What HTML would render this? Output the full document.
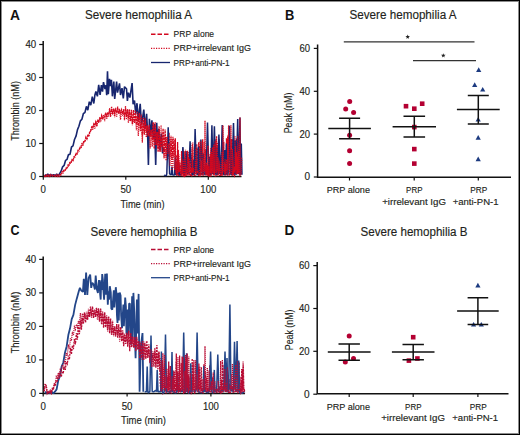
<!DOCTYPE html>
<html><head><meta charset="utf-8"><style>
html,body{margin:0;padding:0;background:#fff;}
.fig{position:relative;width:520px;height:435px;overflow:hidden;background:#fff;}
svg{position:absolute;left:0;top:0;font-family:"Liberation Sans",sans-serif;}
</style></head><body><div class="fig">
<svg width="520" height="435" viewBox="0 0 520 435">
<rect x="0" y="0" width="520" height="435" fill="#fff"/>
<text x="10.0" y="20.0" font-size="14.2" text-anchor="start" font-weight="bold" fill="#111" textLength="10.0" lengthAdjust="spacingAndGlyphs">A</text>
<text x="85.0" y="18.5" font-size="12.5" text-anchor="start" font-weight="normal" fill="#231f20" textLength="107.0" lengthAdjust="spacingAndGlyphs" stroke="#231f20" stroke-width="0.15">Severe hemophilia A</text>
<path d="M43.2,41 V177.2 M42.5,176.5 H241.5" stroke="#111" stroke-width="1.5" fill="none"/>
<path d="M39.2,176.5 H43" stroke="#111" stroke-width="1.2"/>
<text x="36.2" y="179.8" font-size="10.5" text-anchor="end" font-weight="normal" fill="#231f20" textLength="5.6" lengthAdjust="spacingAndGlyphs" stroke="#231f20" stroke-width="0.15">0</text>
<path d="M39.2,143.5 H43" stroke="#111" stroke-width="1.2"/>
<text x="36.2" y="146.8" font-size="10.5" text-anchor="end" font-weight="normal" fill="#231f20" textLength="10.8" lengthAdjust="spacingAndGlyphs" stroke="#231f20" stroke-width="0.15">10</text>
<path d="M39.2,110.5 H43" stroke="#111" stroke-width="1.2"/>
<text x="36.2" y="113.8" font-size="10.5" text-anchor="end" font-weight="normal" fill="#231f20" textLength="10.8" lengthAdjust="spacingAndGlyphs" stroke="#231f20" stroke-width="0.15">20</text>
<path d="M39.2,77.5 H43" stroke="#111" stroke-width="1.2"/>
<text x="36.2" y="80.8" font-size="10.5" text-anchor="end" font-weight="normal" fill="#231f20" textLength="10.8" lengthAdjust="spacingAndGlyphs" stroke="#231f20" stroke-width="0.15">30</text>
<path d="M39.2,44.5 H43" stroke="#111" stroke-width="1.2"/>
<text x="36.2" y="47.9" font-size="10.5" text-anchor="end" font-weight="normal" fill="#231f20" textLength="10.8" lengthAdjust="spacingAndGlyphs" stroke="#231f20" stroke-width="0.15">40</text>
<path d="M43.3,176.5 V179.8" stroke="#111" stroke-width="1.2"/>
<text x="43.3" y="192.5" font-size="10.5" text-anchor="middle" font-weight="normal" fill="#231f20" textLength="5.4" lengthAdjust="spacingAndGlyphs" stroke="#231f20" stroke-width="0.15">0</text>
<path d="M125.8,176.5 V179.8" stroke="#111" stroke-width="1.2"/>
<text x="125.8" y="192.5" font-size="10.5" text-anchor="middle" font-weight="normal" fill="#231f20" textLength="10.8" lengthAdjust="spacingAndGlyphs" stroke="#231f20" stroke-width="0.15">50</text>
<path d="M208.3,176.5 V179.8" stroke="#111" stroke-width="1.2"/>
<text x="208.3" y="192.5" font-size="10.5" text-anchor="middle" font-weight="normal" fill="#231f20" textLength="16.0" lengthAdjust="spacingAndGlyphs" stroke="#231f20" stroke-width="0.15">100</text>
<text x="120.5" y="207.6" font-size="11" text-anchor="start" font-weight="normal" fill="#231f20" textLength="44.0" lengthAdjust="spacingAndGlyphs" stroke="#231f20" stroke-width="0.15">Time (min)</text>
<g transform="translate(18.7,140.8) rotate(-90)"><text x="0.0" y="0.0" font-size="10.5" text-anchor="start" font-weight="normal" fill="#231f20" textLength="59.8" lengthAdjust="spacingAndGlyphs" stroke="#231f20" stroke-width="0.15">Thrombin (nM)</text></g>
<path d="M44.8,174.6 46.3,175.8 47.8,174.1 49.2,175.7 50.7,174.4 52.2,175.8 53.7,174.6 55.2,175.7 56.7,174.0 58.1,175.9 59.6,173.7 61.1,171.2 62.6,166.8 64.1,165.4 65.6,160.3 67.1,159.3 68.5,154.5 70.0,154.4 71.5,147.0 73.0,145.9 74.5,139.5 76.0,136.2 77.5,129.6 78.9,126.3 80.4,120.9 81.9,119.2 83.4,113.5 84.9,112.6 86.4,106.4 87.8,110.2 89.3,101.7 90.8,105.2 92.3,96.6 93.8,103.5 94.9,95.0 95.9,91.4 97.4,96.3 98.7,84.8 100.1,95.0 101.4,85.1 102.5,91.7 103.5,82.1 105.0,89.1 106.0,85.1 106.7,95.3 107.5,71.2 108.3,94.3 109.5,78.8 110.5,86.1 111.4,79.8 112.4,96.3 113.8,81.5 114.7,99.0 116.6,81.5 117.5,92.7 119.5,83.4 120.5,95.0 122.0,88.1 123.3,98.3 124.5,86.7 126.5,88.7 127.4,100.9 128.4,92.7 129.9,97.6 132.1,83.1 133.1,104.2 134.5,100.6 135.7,113.8 137.0,103.2 138.3,120.4 140.2,103.9 141.5,125.3 143.8,109.5 145.3,128.7 146.6,113.8 147.6,133.6 148.4,164.9 149.4,118.8 150.6,135.2 151.9,120.4 153.4,138.6 154.5,123.7 155.7,164.9 156.7,122.7 157.6,143.5 158.8,128.7 160.0,150.1 161.3,133.6 162.6,153.4 163.8,146.8" stroke="#17266f" stroke-width="1.6" fill="none" stroke-linejoin="bevel"/>
<path d="M44.3,175.2 45.3,176.3 46.3,174.8 47.3,176.1 48.2,175.1 49.2,176.3 50.2,174.7 51.2,176.1 52.2,174.9 53.2,175.9 54.2,175.3 55.2,176.0 56.2,174.8 57.2,175.8 58.1,174.7 59.1,175.9 60.1,174.6 61.1,174.0 62.1,171.6 63.1,172.3 64.1,169.4 65.1,170.0 66.1,167.8 67.1,167.5 68.0,165.0 69.0,165.0 70.0,161.9 71.0,162.2 72.0,159.7 73.0,159.8 74.0,156.7 75.0,156.9 76.0,153.3 77.0,153.5 78.0,150.3 78.9,150.4 79.9,147.5 80.9,146.9 81.9,143.6 82.9,144.1 83.9,140.6 84.9,141.0 85.9,137.1 86.9,138.9 87.9,134.3 88.8,135.6 89.8,131.4 90.8,130.4 91.8,126.9 92.8,127.7 93.8,123.9 94.8,125.4 95.8,121.7 96.8,124.7 97.8,120.5 98.7,121.7 99.7,118.2 100.7,119.6 101.7,115.3 102.7,118.2 103.7,115.8 104.7,116.4 105.7,113.0 106.7,117.0 107.7,112.1 108.6,114.7 109.6,110.6 110.6,114.0 111.6,110.3 112.6,113.2 113.6,109.0 114.6,113.0 115.6,109.5 116.6,111.5 117.6,108.7 118.5,113.5 119.5,109.0 120.5,113.6 121.5,109.7 122.5,113.0 123.5,111.0 124.5,116.5 125.5,108.9 126.5,115.8 127.5,109.6 128.4,118.2 129.4,109.4 130.4,121.2 131.4,112.5 132.4,123.4 133.4,110.0 134.4,123.0 135.4,110.9 136.4,124.3 137.4,116.0 138.3,125.6 139.3,114.3 140.3,127.9 141.3,122.9 142.3,135.8 143.3,117.7 144.3,134.8 145.3,118.3 146.3,132.3 147.3,125.1 148.2,136.3 149.2,124.9 150.2,136.8 151.2,129.8 152.2,140.2 153.2,122.2 154.2,148.9 155.2,124.9 156.2,145.0 157.2,131.7 158.1,152.2 159.1,129.8 160.1,151.3 161.1,137.0 162.1,147.1 163.1,128.5 164.1,156.8 165.1,129.4 166.1,156.6 167.1,137.0 168.0,158.7 169.0,132.7 170.0,157.1 171.0,138.7 172.0,158.9 173.0,136.7 174.0,157.0 175.0,139.5 176.0,173.9 176.3,155.0 176.6,173.0 176.9,173.3 177.3,175.1 177.6,141.9 177.9,171.6 178.3,173.1 178.6,176.0 178.9,160.4 179.3,175.7 179.6,173.0 179.9,175.8 180.2,164.9 180.6,173.8 180.9,170.6 181.2,175.5 181.6,151.1 181.9,173.6 182.2,151.2 182.6,171.8 182.9,148.4 183.2,176.5 183.6,174.2 183.9,172.4 184.2,151.3 184.5,175.2 184.9,165.4 185.2,176.3 185.5,165.6 185.9,171.7 186.2,158.8 186.5,173.6 186.9,176.0 187.2,173.3 187.5,150.7 187.8,171.4 188.2,152.0 188.5,173.7 188.8,174.3 189.2,172.2 189.5,174.6 189.8,174.8 190.2,175.9 190.5,176.1 190.8,148.2 191.1,172.5 191.5,154.9 191.8,176.4 192.1,161.2 192.5,173.8 192.8,162.5 193.1,175.3 193.5,161.2 193.8,175.2 194.1,147.5 194.4,172.6 194.8,168.1 195.1,174.4 195.4,153.8 195.8,171.3 196.1,159.1 196.4,173.8 196.8,144.0 197.1,172.2 197.4,148.6 197.7,172.8 198.1,172.6 198.4,172.7 198.7,142.3 199.1,174.3 199.4,145.5 199.7,171.1 200.1,176.5 200.4,174.7 200.7,161.6 201.0,175.7 201.4,173.5 201.7,174.8 202.0,172.2 202.4,173.8 202.7,139.3 203.0,172.4 203.4,163.4 203.7,172.7 204.0,166.2 204.3,170.9 204.7,166.4 205.0,171.5 205.3,149.3 205.7,175.3 206.0,165.3 206.3,174.2 206.7,173.7 207.0,173.8 207.3,165.1 207.6,175.4 208.0,165.3 208.3,175.3 208.6,176.3 209.0,171.5 209.3,172.1 209.6,176.4 210.0,174.9 210.3,172.7 210.6,166.6 210.9,176.5 211.3,172.6 211.6,174.6 211.9,139.5 212.3,174.2 212.6,143.7 212.9,171.4 213.3,174.5 213.6,175.3 213.9,153.6 214.2,175.1 214.6,141.5 214.9,170.7 215.2,176.4 215.6,172.9 215.9,139.1 216.2,171.8 216.6,168.7 216.9,176.1 217.2,151.2 217.5,172.6 217.9,143.1 218.2,174.4 218.5,161.8 218.9,174.6 219.2,139.3 219.5,176.1 219.9,155.1 220.2,172.2 220.5,165.2 220.8,176.1 221.2,155.8 221.5,172.2 221.8,169.9 222.2,175.8 222.5,173.1 222.8,173.9 223.2,145.9 223.5,173.2 223.8,141.7 224.1,175.2 224.5,161.7 224.8,173.1 225.1,169.2 225.5,172.0 225.8,169.7 226.1,171.1 226.5,138.3 226.8,172.2 227.1,143.7 227.4,170.8 227.8,138.2 228.1,170.4 228.4,136.7 228.8,170.6 229.1,176.0 229.4,174.3 229.8,150.8 230.1,171.7 230.4,169.7 230.7,170.6 231.1,139.1 231.4,175.2 231.7,173.0 232.1,171.6 232.4,139.0 232.7,174.2 233.1,159.3 233.4,175.4 233.7,141.9 234.0,174.2 234.4,175.4 234.7,173.8 235.0,175.4 235.4,172.2 235.7,171.9 236.0,170.6 236.4,138.3 236.7,173.2 237.0,166.3 237.3,173.8 237.7,143.6 238.0,171.7 238.3,165.7 238.7,173.7 239.0,155.6 239.3,174.8 239.7,156.9 240.0,176.3 240.3,151.4 240.6,171.3 241.0,145.2 241.3,170.1 241.6,159.6" stroke="#d3081f" stroke-width="1.3" fill="none" stroke-dasharray="2,1"/>
<path d="M164.4,175.5 164.4,175.2 166.2,175.9 166.8,173.9 168.2,127.3 169.6,173.9 171.3,174.8 172.0,166.6 172.7,174.8 173.5,175.1 174.6,174.8 175.3,156.7 176.0,174.8 177.1,174.5 177.9,174.8 178.6,163.3 179.3,174.8 180.7,174.8 181.5,173.9 182.9,147.1 184.3,173.9 184.6,173.9 186.0,151.1 187.4,173.9 188.0,173.2 188.7,173.9 190.1,141.2 191.6,173.9 192.7,174.8 193.4,160.0 194.2,174.8 195.1,129.0 196.5,173.9 197.1,174.2 197.7,174.8 198.4,146.8 199.1,174.8 199.5,173.9 200.9,139.5 202.3,173.9 202.6,174.8 203.3,153.4 204.1,174.8 204.3,173.1 206.1,173.9 207.5,122.4 208.9,173.9 209.2,174.8 209.9,156.7 210.7,174.8 211.9,125.3 213.0,173.9 214.4,126.3 215.8,174.8 216.6,146.8 217.3,174.8 217.5,173.9 218.9,134.6 220.3,173.9 220.8,173.9 222.2,125.0 223.6,173.9 224.1,174.8 224.8,150.1 225.5,174.8 225.7,174.8 226.4,143.5 227.2,174.8 228.0,173.9 229.4,125.7 230.7,174.8 231.4,150.1 232.1,174.8 233.5,123.0 234.8,174.8 235.5,140.2 236.3,174.8 237.7,119.1 238.6,173.9 240.0,117.4 240.6,174.8 241.3,143.5 242.0,174.8" stroke="#17266f" stroke-width="1.5" fill="none" stroke-linejoin="bevel"/>
<path d="M44.3,176.3 45.3,176.5 46.3,176.0 47.3,176.5 48.2,176.2 49.2,176.5 50.2,176.1 51.2,176.5 52.2,176.2 53.2,176.5 54.2,175.8 55.2,176.5 56.2,175.9 57.2,176.5 58.1,176.0 59.1,176.5 60.1,175.7 61.1,175.0 62.1,172.7 63.1,173.0 64.1,171.0 65.1,170.7 66.1,168.5 67.1,169.0 68.0,166.3 69.0,166.1 70.0,163.3 71.0,163.4 72.0,159.8 73.0,160.7 74.0,157.4 75.0,157.1 76.0,153.9 77.0,155.0 78.0,151.7 78.9,151.7 79.9,147.7 80.9,148.6 81.9,145.4 82.9,145.8 83.9,141.7 84.9,142.0 85.9,138.6 86.9,139.0 87.9,136.2 88.8,136.2 89.8,132.5 90.8,131.2 91.8,126.6 92.8,130.0 93.8,123.7 94.8,128.7 95.8,121.4 96.8,126.6 97.8,121.0 98.7,122.9 99.7,117.8 100.7,122.0 101.7,115.5 102.7,119.2 103.7,115.7 104.7,121.1 105.7,112.6 106.7,119.2 107.7,113.2 108.6,116.9 109.6,108.1 110.6,116.9 111.6,106.4 112.6,114.4 113.6,108.4 114.6,117.3 115.6,107.9 116.6,117.2 117.6,106.7 118.5,113.5 119.5,109.6 120.5,119.7 121.5,110.1 122.5,115.7 123.5,109.2 124.5,120.2 125.5,106.1 126.5,119.5 127.5,109.0 128.4,123.0 129.4,111.6 130.4,121.3 131.4,109.7 132.4,125.3 133.4,115.5 134.4,122.2 135.4,115.5 136.4,130.1 137.4,111.6 138.3,136.1 139.3,112.7 140.3,131.3 141.3,114.4 142.3,142.6 143.3,120.5 144.3,132.2 145.3,121.6 146.3,137.3 147.3,125.6 148.2,135.8 149.2,127.7 150.2,148.4 151.2,130.1 152.2,146.7 153.2,129.3 154.2,142.5 155.2,122.0 156.2,145.5 157.2,132.3 158.1,149.3 159.1,126.2 160.1,151.9 161.1,125.1 162.1,151.9 163.1,131.9 164.1,158.6 165.1,134.6 166.1,160.7 167.1,136.4 168.0,154.0 169.0,143.4 170.0,166.0 171.0,135.8 172.0,170.5 173.0,138.4 174.0,167.0 174.8,169.9 175.3,138.2 175.8,169.9 176.0,173.4 176.3,161.1 176.6,175.7 176.9,165.4 177.3,174.2 177.6,156.9 177.9,175.2 178.3,150.0 178.6,172.0 178.9,154.4 179.3,171.7 179.6,169.2 179.9,172.1 180.2,162.1 180.6,172.1 180.9,169.4 181.2,175.4 181.6,151.6 181.9,174.5 182.2,174.1 182.6,175.2 182.9,159.4 183.2,173.8 183.6,175.0 183.9,175.5 184.2,159.4 184.5,174.9 184.9,176.3 185.2,176.5 185.5,149.7 185.9,174.9 186.2,173.4 186.5,174.4 186.9,168.3 187.2,173.3 187.5,157.5 187.8,174.8 188.2,156.4 188.5,175.5 188.8,157.5 189.2,171.6 189.5,158.4 189.8,172.0 190.2,163.0 190.5,173.0 190.8,168.8 191.1,174.4 191.5,168.1 191.8,172.8 192.1,143.4 192.5,172.9 192.8,142.2 193.1,172.3 193.5,167.8 193.8,173.9 194.1,175.8 194.4,176.2 194.8,174.9 195.1,174.3 195.4,160.7 195.8,175.7 196.1,147.4 196.4,174.1 196.8,159.1 197.1,172.7 197.4,171.9 197.7,172.5 198.1,170.3 198.4,176.0 198.7,176.2 199.1,173.3 199.4,174.7 199.7,174.3 200.1,140.8 200.4,172.6 200.7,175.0 201.0,172.3 201.4,161.1 201.7,171.8 202.0,141.3 202.4,172.2 202.7,174.0 203.0,173.2 203.4,158.7 203.7,175.7 204.0,142.2 204.3,171.3 204.5,169.9 205.0,120.7 205.5,169.9 205.7,174.0 206.0,165.5 206.3,173.8 206.7,162.6 207.0,175.4 207.3,165.9 207.6,170.9 208.0,145.6 208.3,175.8 208.6,165.5 209.0,171.7 209.3,173.3 209.6,175.9 210.0,154.1 210.3,173.5 210.6,147.9 210.9,173.5 211.3,151.6 211.6,174.6 211.9,153.8 212.3,171.7 212.6,147.2 212.9,172.7 213.3,171.0 213.6,173.1 213.9,144.7 214.2,174.9 214.6,143.8 214.9,172.8 215.2,140.9 215.6,170.4 215.9,173.4 216.2,172.7 216.6,136.1 216.9,173.5 217.2,142.4 217.5,171.1 217.9,157.6 218.2,175.4 218.5,170.9 218.9,171.0 219.2,160.2 219.5,170.9 219.9,162.5 220.2,173.4 220.5,168.6 220.8,175.6 221.2,175.5 221.5,172.1 221.8,151.7 222.2,174.3 222.5,169.9 223.0,125.3 223.5,169.9 223.8,172.4 224.1,171.4 224.5,161.9 224.8,175.4 225.1,159.1 225.5,174.6 225.8,164.0 226.1,171.3 226.5,159.5 226.8,173.2 227.1,175.0 227.4,176.0 227.8,135.4 228.1,169.9 228.6,125.3 229.1,169.9 229.4,172.7 229.8,174.2 230.1,173.9 230.4,169.9 230.9,125.3 231.4,169.9 231.7,172.9 232.1,175.6 232.4,148.9 232.7,175.8 233.1,172.3 233.4,173.4 233.7,169.7 234.0,173.5 234.4,166.6 234.7,172.4 235.0,135.9 235.4,170.3 235.7,146.0 236.0,174.1 236.4,152.3 236.7,170.2 237.0,156.7 237.3,174.3 237.7,135.9 238.0,173.5 238.3,151.1 238.7,172.7 239.0,143.3 239.3,173.5 239.5,169.9 240.0,117.4 240.5,169.9 240.6,170.2 241.0,174.7 241.3,170.2 241.6,157.1" stroke="#d3081f" stroke-width="1.3" fill="none" stroke-dasharray="1,1"/>
<path d="M151,34.3 H168.5" stroke="#d3081f" stroke-width="1.6" stroke-dasharray="4.5,2"/>
<path d="M151,48.4 H170.5" stroke="#d3081f" stroke-width="1.3" stroke-dasharray="1.2,1.3"/>
<path d="M151,62.5 H170" stroke="#17266f" stroke-width="1.3"/>
<text x="173.6" y="37.3" font-size="9.5" text-anchor="start" font-weight="normal" fill="#231f20" textLength="40.5" lengthAdjust="spacingAndGlyphs" stroke="#231f20" stroke-width="0.15">PRP alone</text>
<text x="173.6" y="51.4" font-size="9.5" text-anchor="start" font-weight="normal" fill="#231f20" textLength="77.3" lengthAdjust="spacingAndGlyphs" stroke="#231f20" stroke-width="0.15">PRP+irrelevant IgG</text>
<text x="173.6" y="65.5" font-size="9.5" text-anchor="start" font-weight="normal" fill="#231f20" textLength="56.0" lengthAdjust="spacingAndGlyphs" stroke="#231f20" stroke-width="0.15">PRP+anti-PN-1</text>
<text x="285.0" y="20.0" font-size="14.2" text-anchor="start" font-weight="bold" fill="#111" textLength="9.3" lengthAdjust="spacingAndGlyphs">B</text>
<text x="349.5" y="18.5" font-size="12.5" text-anchor="start" font-weight="normal" fill="#231f20" textLength="107.0" lengthAdjust="spacingAndGlyphs" stroke="#231f20" stroke-width="0.15">Severe hemophilia A</text>
<path d="M317.6,44.5 V178 M317,177.3 H511" stroke="#111" stroke-width="1.5" fill="none"/>
<path d="M313.8,177.0 H317.5" stroke="#111" stroke-width="1.2"/>
<text x="310.0" y="180.3" font-size="10.5" text-anchor="end" font-weight="normal" fill="#231f20" textLength="5.6" lengthAdjust="spacingAndGlyphs" stroke="#231f20" stroke-width="0.15">0</text>
<path d="M313.8,134.1 H317.5" stroke="#111" stroke-width="1.2"/>
<text x="310.0" y="137.5" font-size="10.5" text-anchor="end" font-weight="normal" fill="#231f20" textLength="10.6" lengthAdjust="spacingAndGlyphs" stroke="#231f20" stroke-width="0.15">20</text>
<path d="M313.8,91.3 H317.5" stroke="#111" stroke-width="1.2"/>
<text x="310.0" y="94.6" font-size="10.5" text-anchor="end" font-weight="normal" fill="#231f20" textLength="10.6" lengthAdjust="spacingAndGlyphs" stroke="#231f20" stroke-width="0.15">40</text>
<path d="M313.8,48.4 H317.5" stroke="#111" stroke-width="1.2"/>
<text x="310.0" y="51.8" font-size="10.5" text-anchor="end" font-weight="normal" fill="#231f20" textLength="10.6" lengthAdjust="spacingAndGlyphs" stroke="#231f20" stroke-width="0.15">60</text>
<path d="M349.5,177.3 V180.5" stroke="#111" stroke-width="1.2"/>
<path d="M414.2,177.3 V180.5" stroke="#111" stroke-width="1.2"/>
<path d="M478.3,177.3 V180.5" stroke="#111" stroke-width="1.2"/>
<text x="348.3" y="192.5" font-size="9.5" text-anchor="middle" font-weight="normal" fill="#231f20" textLength="43.3" lengthAdjust="spacingAndGlyphs" stroke="#231f20" stroke-width="0.15">PRP alone</text>
<text x="414.3" y="192.7" font-size="9.5" text-anchor="middle" font-weight="normal" fill="#231f20" textLength="16.4" lengthAdjust="spacingAndGlyphs" stroke="#231f20" stroke-width="0.15">PRP</text>
<text x="414.1" y="204.5" font-size="9.5" text-anchor="middle" font-weight="normal" fill="#231f20" textLength="63.8" lengthAdjust="spacingAndGlyphs" stroke="#231f20" stroke-width="0.15">+irrelevant IgG</text>
<text x="478.7" y="192.7" font-size="9.5" text-anchor="middle" font-weight="normal" fill="#231f20" textLength="17.0" lengthAdjust="spacingAndGlyphs" stroke="#231f20" stroke-width="0.15">PRP</text>
<text x="475.6" y="204.5" font-size="9.5" text-anchor="middle" font-weight="normal" fill="#231f20" textLength="45.8" lengthAdjust="spacingAndGlyphs" stroke="#231f20" stroke-width="0.15">+anti-PN-1</text>
<g transform="translate(292.4,133.3) rotate(-90)"><text x="0.0" y="0.0" font-size="10.5" text-anchor="start" font-weight="normal" fill="#231f20" textLength="40.7" lengthAdjust="spacingAndGlyphs" stroke="#231f20" stroke-width="0.15">Peak (nM)</text></g>
<path d="M343.8,41.8 H474.5 M413,60.6 H476" stroke="#333" stroke-width="1.3"/>
<polygon points="407.70,34.50 408.29,36.09 409.98,36.16 408.65,37.21 409.11,38.84 407.70,37.90 406.29,38.84 406.75,37.21 405.42,36.16 407.11,36.09" fill="#222"/>
<polygon points="443.30,53.20 443.89,54.79 445.58,54.86 444.25,55.91 444.71,57.54 443.30,56.60 441.89,57.54 442.35,55.91 441.02,54.86 442.71,54.79" fill="#222"/>
<circle cx="349.7" cy="101.6" r="2.5" fill="#b40032"/>
<circle cx="345.7" cy="108.9" r="2.5" fill="#b40032"/>
<circle cx="353.6" cy="112.4" r="2.5" fill="#b40032"/>
<circle cx="349.6" cy="135.2" r="2.5" fill="#b40032"/>
<circle cx="349.6" cy="150.7" r="2.5" fill="#b40032"/>
<circle cx="349.6" cy="163.5" r="2.5" fill="#b40032"/>
<path d="M328.3,128.6 H370.9 M339.1,118.3 H360.1 M339.1,138.7 H360.1 M349.6,118.3 V138.7" stroke="#111" stroke-width="1.5" fill="none"/>
<rect x="403.7" y="103.9" width="4.6" height="4.6" fill="#b40032"/>
<rect x="412.0" y="106.4" width="4.6" height="4.6" fill="#b40032"/>
<rect x="419.9" y="101.4" width="4.6" height="4.6" fill="#b40032"/>
<rect x="412.0" y="124.8" width="4.6" height="4.6" fill="#b40032"/>
<rect x="412.0" y="146.8" width="4.6" height="4.6" fill="#b40032"/>
<rect x="412.0" y="161.3" width="4.6" height="4.6" fill="#b40032"/>
<path d="M392.6,126.8 H436.0 M403.5,116.3 H425.1 M403.5,136.9 H425.1 M414.3,116.3 V136.9" stroke="#111" stroke-width="1.5" fill="none"/>
<path d="M478.7,67.2 L481.3,71.9 L476.1,71.9 Z" fill="#1c3a80"/>
<path d="M474.7,82.3 L477.3,87.0 L472.1,87.0 Z" fill="#1c3a80"/>
<path d="M482.7,86.9 L485.3,91.6 L480.1,91.6 Z" fill="#1c3a80"/>
<path d="M478.2,116.9 L480.8,121.6 L475.6,121.6 Z" fill="#1c3a80"/>
<path d="M478.2,135.0 L480.8,139.7 L475.6,139.7 Z" fill="#1c3a80"/>
<path d="M478.2,156.6 L480.8,161.3 L475.6,161.3 Z" fill="#1c3a80"/>
<path d="M456.9,109.4 H499.7 M467.8,95.4 H488.8 M467.8,123.9 H488.8 M478.3,95.4 V123.9" stroke="#111" stroke-width="1.5" fill="none"/>
<text x="10.5" y="235.4" font-size="14.2" text-anchor="start" font-weight="bold" fill="#111" textLength="9.0" lengthAdjust="spacingAndGlyphs">C</text>
<text x="90.5" y="236.3" font-size="12.5" text-anchor="start" font-weight="normal" fill="#231f20" textLength="107.0" lengthAdjust="spacingAndGlyphs" stroke="#231f20" stroke-width="0.15">Severe hemophilia B</text>
<path d="M43.2,256.5 V394.1 M42.5,393.4 H245" stroke="#111" stroke-width="1.5" fill="none"/>
<path d="M39.2,393.4 H43" stroke="#111" stroke-width="1.2"/>
<text x="36.2" y="396.8" font-size="10.5" text-anchor="end" font-weight="normal" fill="#231f20" textLength="5.6" lengthAdjust="spacingAndGlyphs" stroke="#231f20" stroke-width="0.15">0</text>
<path d="M39.2,359.9 H43" stroke="#111" stroke-width="1.2"/>
<text x="36.2" y="363.2" font-size="10.5" text-anchor="end" font-weight="normal" fill="#231f20" textLength="10.8" lengthAdjust="spacingAndGlyphs" stroke="#231f20" stroke-width="0.15">10</text>
<path d="M39.2,326.4 H43" stroke="#111" stroke-width="1.2"/>
<text x="36.2" y="329.8" font-size="10.5" text-anchor="end" font-weight="normal" fill="#231f20" textLength="10.8" lengthAdjust="spacingAndGlyphs" stroke="#231f20" stroke-width="0.15">20</text>
<path d="M39.2,292.9 H43" stroke="#111" stroke-width="1.2"/>
<text x="36.2" y="296.2" font-size="10.5" text-anchor="end" font-weight="normal" fill="#231f20" textLength="10.8" lengthAdjust="spacingAndGlyphs" stroke="#231f20" stroke-width="0.15">30</text>
<path d="M39.2,259.4 H43" stroke="#111" stroke-width="1.2"/>
<text x="36.2" y="262.8" font-size="10.5" text-anchor="end" font-weight="normal" fill="#231f20" textLength="10.8" lengthAdjust="spacingAndGlyphs" stroke="#231f20" stroke-width="0.15">40</text>
<path d="M43.2,393.4 V396.6" stroke="#111" stroke-width="1.2"/>
<text x="43.2" y="409.8" font-size="10.5" text-anchor="middle" font-weight="normal" fill="#231f20" textLength="5.4" lengthAdjust="spacingAndGlyphs" stroke="#231f20" stroke-width="0.15">0</text>
<path d="M127.1,393.4 V396.6" stroke="#111" stroke-width="1.2"/>
<text x="127.1" y="409.8" font-size="10.5" text-anchor="middle" font-weight="normal" fill="#231f20" textLength="10.8" lengthAdjust="spacingAndGlyphs" stroke="#231f20" stroke-width="0.15">50</text>
<path d="M210.9,393.4 V396.6" stroke="#111" stroke-width="1.2"/>
<text x="210.9" y="409.8" font-size="10.5" text-anchor="middle" font-weight="normal" fill="#231f20" textLength="16.0" lengthAdjust="spacingAndGlyphs" stroke="#231f20" stroke-width="0.15">100</text>
<text x="121.0" y="423.6" font-size="10.5" text-anchor="start" font-weight="normal" fill="#231f20" textLength="45.0" lengthAdjust="spacingAndGlyphs" stroke="#231f20" stroke-width="0.15">Time (min)</text>
<g transform="translate(18.6,353.6) rotate(-90)"><text x="0.0" y="0.0" font-size="11" text-anchor="start" font-weight="normal" fill="#231f20" textLength="62.0" lengthAdjust="spacingAndGlyphs" stroke="#231f20" stroke-width="0.15">Thrombin (nM)</text></g>
<path d="M44.9,391.9 46.6,392.9 48.2,392.1 49.9,393.4 51.6,391.7 53.3,393.4 54.9,391.7 56.6,389.4 58.3,380.4 60.0,376.0 61.6,366.5 63.3,362.5 65.0,352.5 66.7,346.2 68.4,334.7 70.0,328.6 71.7,319.1 73.4,314.8 75.1,305.1 76.7,298.9 78.8,291.2 79.9,287.9 81.3,290.6 82.9,291.9 83.8,278.8 85.0,294.9 86.1,272.5 87.3,294.9 88.6,278.2 90.2,274.5 91.2,287.9 92.3,282.8 93.7,284.5 94.9,289.5 95.7,275.5 96.9,289.5 97.9,292.9 99.0,280.2 99.6,283.8 100.1,293.8 100.7,299.6 101.2,280.2 101.7,290.0 102.2,274.1 102.9,279.8 103.4,290.2 104.1,299.6 105.2,273.7 105.8,294.7 106.9,273.5 107.8,304.6 108.5,291.4 109.0,299.8 109.8,286.2 110.8,292.5 111.3,308.6 112.3,309.6 113.8,290.4 114.3,307.4 115.8,287.2 116.4,293.1 116.9,314.8 117.5,323.0 118.3,292.7 118.8,320.4 119.7,292.6 120.6,295.5 121.1,315.1 122.0,328.1 123.4,304.6 123.9,326.1 125.2,297.6 125.9,306.5 126.4,332.7 127.1,334.8 127.8,309.4 128.3,333.2 129.1,303.6 129.9,303.6 130.4,330.5 131.2,344.8 132.1,296.2 132.6,340.3 133.4,292.9 134.3,312.2 134.8,335.4 135.6,358.2 136.9,299.5 137.4,333.5 138.6,293.9 139.6,391.7 140.8,346.5 142.5,333.1 143.3,391.7" stroke="#234689" stroke-width="1.8" fill="none" stroke-linejoin="bevel"/>
<path d="M44.2,391.3 45.2,384.6 46.2,385.3 47.2,393.4 48.2,391.7 49.2,393.3 50.2,390.5 51.2,393.1 52.3,388.6 53.3,390.1 54.3,384.8 55.3,385.7 56.3,380.1 57.3,381.0 58.3,375.5 59.3,378.4 60.3,372.2 61.3,376.9 62.3,371.6 63.3,372.5 64.3,366.7 65.3,369.8 66.3,361.9 67.3,363.9 68.4,355.6 69.4,359.5 70.4,347.8 71.4,354.3 72.4,345.3 73.4,349.1 74.4,338.8 75.4,344.4 76.4,333.2 77.4,339.7 78.4,325.1 79.4,334.2 80.4,320.4 81.4,329.8 82.4,318.0 83.4,323.6 84.5,312.8 85.5,322.6 86.5,315.5 87.5,320.1 88.5,311.3 89.5,317.4 90.5,306.6 91.5,315.8 92.5,306.3 93.5,318.3 94.5,310.5 95.5,316.9 96.5,308.9 97.5,316.6 98.5,308.4 99.5,321.7 100.6,308.5 101.6,324.7 102.6,311.5 103.6,327.8 104.6,312.3 105.6,327.4 106.6,316.8 107.6,328.6 108.6,316.7 109.6,333.4 110.6,318.4 111.6,334.7 112.6,325.7 113.6,333.4 114.6,326.9 115.6,336.3 116.7,324.8 117.7,337.8 118.7,324.2 119.7,337.0 120.7,326.7 121.7,341.4 122.7,332.2 123.7,346.2 124.7,335.0 125.7,343.9 126.7,332.7 127.7,346.6 128.7,330.6 129.7,348.0 130.7,332.8 131.7,347.4 132.8,337.3 133.8,347.5 134.8,337.1 135.8,351.2 136.8,336.9 137.8,349.8 138.8,340.8 139.8,358.6 140.8,346.0 141.8,357.4 142.8,341.1 143.8,359.4 144.8,343.4 145.8,358.7 146.8,340.7 147.8,358.0 148.9,344.2 149.9,363.1 150.9,345.1 151.9,362.5 152.9,353.1 153.9,366.7 154.9,351.4 155.9,367.9 156.9,345.1 157.9,369.1 158.9,352.0 159.9,371.1 160.3,383.9 160.8,389.8 161.2,367.8 161.6,389.9 162.0,365.0 162.4,391.4 162.9,393.4 163.3,392.6 163.7,392.1 164.1,390.8 164.5,364.0 165.0,391.4 165.4,385.7 165.8,387.6 166.2,393.4 166.6,387.5 167.0,377.3 167.5,390.1 167.9,390.1 168.3,388.3 168.7,365.5 169.1,387.7 169.6,393.4 170.0,389.3 170.4,366.0 170.8,388.6 171.2,373.7 171.7,389.4 172.1,389.6 172.5,389.6 172.9,389.6 173.3,388.1 173.8,370.6 174.2,392.4 174.6,380.6 175.0,392.1 175.4,388.2 175.9,390.6 176.3,353.4 176.7,392.7 177.1,374.0 177.5,388.2 177.9,372.3 178.4,390.3 178.8,388.4 179.2,391.2 179.6,355.5 180.0,390.4 180.5,392.2 180.9,387.5 181.3,362.9 181.7,392.2 182.1,389.6 182.6,388.5 183.0,378.2 183.4,388.5 183.8,393.3 184.2,393.3 184.7,385.0 185.1,392.9 185.5,364.1 185.9,391.6 186.3,388.9 186.8,390.5 187.2,391.8 187.6,388.8 188.0,374.8 188.4,391.1 188.8,377.1 189.3,391.0 189.7,392.3 190.1,392.4 190.5,378.0 190.9,393.1 191.4,380.1 191.8,391.5 192.2,358.4 192.6,390.6 193.0,374.4 193.5,389.0 193.9,360.1 194.3,388.5 194.7,393.1 195.1,391.1 195.6,389.6 196.0,390.5 196.4,367.0 196.8,389.1 197.2,385.5 197.7,389.9 198.1,367.0 198.5,392.7 198.9,369.0 199.3,389.3 199.7,366.8 200.2,389.0 200.6,379.7 201.0,393.1 201.4,367.1 201.8,388.2 202.3,392.9 202.7,391.5 203.1,392.2 203.5,388.3 203.9,364.2 204.4,388.0 204.8,389.0 205.2,391.0 205.6,372.0 206.0,391.5 206.5,393.0 206.9,392.2 207.3,389.8 207.7,389.4 208.1,392.9 208.6,390.8 209.0,387.6 209.4,392.6 209.8,365.3 210.2,388.9 210.6,382.3 211.1,392.2 211.5,388.2 211.9,389.4 212.3,377.3 212.7,388.8 213.2,392.0 213.6,389.6 214.0,393.3 214.4,389.0 214.8,386.7 215.3,389.7 215.7,391.4 216.1,389.7 216.5,393.2 216.9,390.5 217.4,388.9 217.8,391.3 218.2,388.6 218.6,392.3 219.0,387.0 219.5,390.5 219.9,386.0 220.3,388.8 220.7,393.2 221.1,393.1 221.5,379.8 222.0,391.9 222.4,360.0 222.8,391.1 223.2,388.6 223.6,388.8 224.1,364.7 224.5,388.3 224.9,370.2 225.3,391.7 225.7,372.5 226.2,391.5 226.6,377.3 227.0,392.2 227.4,370.5 227.8,389.6 228.3,385.6 228.7,391.7 229.1,384.2 229.5,389.7 229.9,378.9 230.4,389.1 230.8,389.0 231.2,390.8 231.6,388.8 232.0,389.0 232.4,386.0 232.9,392.2 233.3,389.9 233.7,392.6 234.1,379.2 234.5,388.6 235.0,370.5 235.4,388.8 235.8,388.5 236.2,391.4 236.6,390.4 237.1,390.7 237.5,385.8 237.9,393.3 238.3,384.6 238.7,392.4 239.2,362.3 239.6,392.3 240.0,376.7 240.4,392.6 240.8,388.7 241.3,393.3 241.7,369.0 242.1,393.3 242.5,369.1 242.9,388.8 243.3,364.4 243.8,390.5 244.2,388.7 244.6,393.2" stroke="#b80c34" stroke-width="1.3" fill="none" stroke-dasharray="2,1"/>
<path d="M144.7,391.8 146.4,391.7 147.2,366.6 147.9,391.7 148.3,392.9 149.9,391.4 151.0,335.4 152.2,391.4 153.9,391.7 155.7,390.4 156.5,391.7 157.2,369.9 158.0,391.7 159.4,391.5 160.7,391.7 161.4,351.5 162.2,391.7 163.1,393.3 164.3,391.4 165.5,334.4 166.6,391.4 168.6,391.9 170.5,391.0 171.2,391.7 172.0,351.9 172.7,391.7 174.2,392.6 176.0,393.0 176.6,391.7 177.4,373.3 178.1,391.7 179.7,390.3 181.6,391.4 182.6,391.4 183.7,332.4 184.9,391.4 185.2,392.1 185.8,391.7 186.6,353.2 187.3,391.7 188.9,393.1 190.0,391.7 190.8,363.2 191.5,391.7 192.6,391.1 194.5,391.0 196.0,391.4 197.1,332.4 198.3,391.4 200.0,392.5 201.8,392.7 203.1,391.7 203.9,365.9 204.6,391.7 205.5,390.7 207.4,392.7 209.4,391.4 210.6,351.5 211.7,391.4 212.9,393.2 213.5,391.7 214.3,369.9 215.0,391.7 216.6,391.4 217.8,354.5 218.9,391.4 220.3,392.0 222.1,390.4 223.8,391.4 225.0,351.5 226.2,391.7 227.0,357.9 227.8,391.7 228.7,391.4 229.9,304.6 231.0,391.4 231.4,390.4 233.4,391.4 234.5,341.8 235.9,391.4 237.1,341.1 238.0,391.7 238.7,360.6 239.5,391.7 240.6,393.3 242.4,393.1 244.3,391.7" stroke="#234689" stroke-width="1.5" fill="none" stroke-linejoin="bevel"/>
<path d="M44.2,391.1 45.2,384.7 46.2,384.7 47.2,393.0 48.2,391.6 49.2,393.4 50.2,391.1 51.2,393.0 52.3,389.1 53.3,388.4 54.3,383.8 55.3,383.5 56.3,376.7 57.3,378.3 58.3,372.7 59.3,374.3 60.3,369.5 61.3,370.6 62.3,365.0 63.3,367.7 64.3,361.7 65.3,363.3 66.3,352.7 67.3,355.4 68.4,344.5 69.4,349.0 70.4,338.3 71.4,340.8 72.4,331.8 73.4,335.3 74.4,327.0 75.4,329.3 76.4,324.3 77.4,327.1 78.4,321.0 79.4,323.9 80.4,313.1 81.4,324.4 82.4,313.4 83.4,318.5 84.5,312.5 85.5,317.1 86.5,311.9 87.5,319.4 88.5,308.9 89.5,315.6 90.5,309.3 91.5,317.7 92.5,309.5 93.5,315.7 94.5,309.1 95.5,315.3 96.5,307.4 97.5,320.0 98.5,309.3 99.5,320.1 100.6,308.7 101.6,321.6 102.6,315.4 103.6,323.6 104.6,312.5 105.6,324.1 106.6,315.3 107.6,331.5 108.6,316.5 109.6,330.2 110.6,321.1 111.6,335.0 112.6,320.8 113.6,336.2 114.6,326.2 115.6,336.5 116.7,323.6 117.7,335.4 118.7,329.1 119.7,341.7 120.7,327.9 121.7,340.1 122.7,330.1 123.7,340.5 124.7,333.5 125.7,341.0 126.7,333.8 127.7,343.0 128.7,331.3 129.7,351.3 130.7,335.3 131.7,345.7 132.8,336.4 133.8,347.6 134.8,339.4 135.8,348.6 136.8,339.4 137.8,349.4 138.8,342.5 139.8,352.1 140.8,341.9 141.8,359.8 142.8,342.0 143.8,359.9 144.8,341.8 145.8,359.0 146.8,349.2 147.8,355.8 148.9,349.8 149.9,361.6 150.9,349.0 151.9,367.0 152.9,351.3 153.9,360.2 154.9,347.8 155.9,366.1 156.9,354.7 157.9,364.6 158.9,351.6 159.9,370.7 160.3,358.3 160.8,390.0 161.2,390.4 161.6,391.6 162.0,360.5 162.4,389.3 162.9,352.9 163.3,389.4 163.7,367.4 164.1,387.6 164.5,354.8 165.0,390.8 165.4,376.2 165.8,388.5 166.2,385.9 166.6,388.6 167.0,368.7 167.5,391.2 167.9,376.3 168.3,391.7 168.7,361.4 169.1,390.6 169.6,372.5 170.0,388.6 170.4,378.5 170.8,392.5 171.2,392.7 171.7,388.3 172.1,376.0 172.5,390.1 172.9,378.8 173.3,392.4 173.8,372.5 174.2,389.6 174.6,371.6 175.0,388.6 175.4,393.4 175.9,390.3 176.3,361.9 176.7,389.8 177.1,372.0 177.5,390.3 177.9,357.2 178.4,393.1 178.8,385.1 179.2,392.5 179.6,371.8 180.0,391.0 180.5,391.4 180.9,387.7 181.3,390.1 181.7,388.5 182.1,356.4 182.6,390.7 183.0,357.1 183.4,391.0 183.8,393.0 184.2,388.6 184.7,371.0 185.1,392.9 185.5,354.8 185.9,391.2 186.3,358.5 186.8,392.0 187.2,353.5 187.6,387.7 188.0,375.1 188.4,393.3 188.8,356.5 189.3,390.1 189.7,390.7 190.1,389.6 190.5,373.2 190.9,388.5 191.4,393.3 191.8,392.8 192.2,392.6 192.6,392.0 193.0,363.7 193.5,390.3 193.9,377.4 194.3,392.5 194.7,392.9 195.1,392.0 195.6,360.3 196.0,389.6 196.4,373.4 196.8,389.2 197.2,389.8 197.7,392.0 198.1,369.7 198.5,388.4 198.9,363.5 199.3,390.7 199.7,387.1 200.2,392.8 200.6,392.6 201.0,389.9 201.4,387.3 201.8,391.4 202.3,392.3 202.7,391.2 203.1,379.0 203.5,390.0 203.9,389.9 204.4,388.7 204.5,386.7 205.0,346.2 205.5,386.7 206.0,392.3 206.5,377.6 206.9,390.5 207.3,367.7 207.7,392.2 208.1,379.9 208.6,391.0 209.0,370.4 209.4,389.6 209.8,392.0 210.2,390.3 210.6,385.7 211.1,392.9 211.5,381.2 211.9,388.3 212.3,387.5 212.7,388.4 213.2,372.4 213.6,393.0 214.0,388.6 214.4,389.0 214.8,381.0 215.3,390.8 215.7,390.4 216.1,392.1 216.5,391.2 216.9,389.6 217.4,389.4 217.8,392.8 218.2,381.1 218.6,388.2 219.0,389.8 219.5,392.8 219.9,391.2 220.3,393.3 220.7,361.0 221.1,392.3 221.5,388.3 222.0,392.4 222.4,390.6 222.8,392.9 223.2,388.7 223.6,389.3 224.1,382.7 224.5,390.2 224.9,369.0 225.3,392.1 225.7,388.7 226.2,392.1 226.6,383.4 227.0,391.2 227.4,367.0 227.8,391.7 228.3,389.5 228.7,393.2 229.1,392.2 229.5,393.3 229.9,391.3 230.4,393.4 230.8,385.3 231.2,388.6 231.6,374.0 232.0,389.9 232.4,363.8 232.9,388.8 233.3,392.7 233.7,393.1 234.1,375.8 234.5,389.4 235.0,391.5 235.4,391.2 235.8,364.6 236.2,392.3 236.6,389.5 237.1,388.9 237.5,361.1 237.9,392.2 238.3,389.9 238.7,388.7 239.2,390.4 239.6,390.0 240.0,383.9 240.4,391.2 240.8,392.7 241.3,390.7 241.7,380.4 242.1,391.5 242.6,386.7 243.1,361.2 243.6,386.7 243.8,391.5 244.2,391.7 244.6,389.9" stroke="#b80c34" stroke-width="1.3" fill="none" stroke-dasharray="1,1"/>
<path d="M151,249.5 H168.5" stroke="#b80c34" stroke-width="1.6" stroke-dasharray="4.5,2"/>
<path d="M151,263.6 H170.5" stroke="#b80c34" stroke-width="1.3" stroke-dasharray="1.2,1.3"/>
<path d="M151,277.7 H170" stroke="#234689" stroke-width="1.3"/>
<text x="173.6" y="252.5" font-size="9.5" text-anchor="start" font-weight="normal" fill="#231f20" textLength="40.5" lengthAdjust="spacingAndGlyphs" stroke="#231f20" stroke-width="0.15">PRP alone</text>
<text x="173.6" y="266.6" font-size="9.5" text-anchor="start" font-weight="normal" fill="#231f20" textLength="77.3" lengthAdjust="spacingAndGlyphs" stroke="#231f20" stroke-width="0.15">PRP+irrelevant IgG</text>
<text x="173.6" y="280.7" font-size="9.5" text-anchor="start" font-weight="normal" fill="#231f20" textLength="56.0" lengthAdjust="spacingAndGlyphs" stroke="#231f20" stroke-width="0.15">PRP+anti-PN-1</text>
<text x="284.5" y="235.3" font-size="14.2" text-anchor="start" font-weight="bold" fill="#111" textLength="9.7" lengthAdjust="spacingAndGlyphs">D</text>
<text x="360.5" y="236.3" font-size="12.5" text-anchor="start" font-weight="normal" fill="#231f20" textLength="107.0" lengthAdjust="spacingAndGlyphs" stroke="#231f20" stroke-width="0.15">Severe hemophilia B</text>
<path d="M317.2,262 V394.5 M316.5,393.8 H508.5" stroke="#111" stroke-width="1.5" fill="none"/>
<path d="M313.3,394.2 H317" stroke="#111" stroke-width="1.2"/>
<text x="309.5" y="397.6" font-size="10.5" text-anchor="end" font-weight="normal" fill="#231f20" textLength="5.6" lengthAdjust="spacingAndGlyphs" stroke="#231f20" stroke-width="0.15">0</text>
<path d="M313.3,351.3 H317" stroke="#111" stroke-width="1.2"/>
<text x="309.5" y="354.7" font-size="10.5" text-anchor="end" font-weight="normal" fill="#231f20" textLength="10.6" lengthAdjust="spacingAndGlyphs" stroke="#231f20" stroke-width="0.15">20</text>
<path d="M313.3,308.5 H317" stroke="#111" stroke-width="1.2"/>
<text x="309.5" y="311.8" font-size="10.5" text-anchor="end" font-weight="normal" fill="#231f20" textLength="10.6" lengthAdjust="spacingAndGlyphs" stroke="#231f20" stroke-width="0.15">40</text>
<path d="M313.3,265.6 H317" stroke="#111" stroke-width="1.2"/>
<text x="309.5" y="269.0" font-size="10.5" text-anchor="end" font-weight="normal" fill="#231f20" textLength="10.6" lengthAdjust="spacingAndGlyphs" stroke="#231f20" stroke-width="0.15">60</text>
<path d="M349.2,393.8 V397" stroke="#111" stroke-width="1.2"/>
<path d="M413.2,393.8 V397" stroke="#111" stroke-width="1.2"/>
<path d="M477.9,393.8 V397" stroke="#111" stroke-width="1.2"/>
<text x="348.3" y="409.5" font-size="9.5" text-anchor="middle" font-weight="normal" fill="#231f20" textLength="43.3" lengthAdjust="spacingAndGlyphs" stroke="#231f20" stroke-width="0.15">PRP alone</text>
<text x="413.3" y="409.5" font-size="9.5" text-anchor="middle" font-weight="normal" fill="#231f20" textLength="16.4" lengthAdjust="spacingAndGlyphs" stroke="#231f20" stroke-width="0.15">PRP</text>
<text x="413.1" y="421.3" font-size="9.5" text-anchor="middle" font-weight="normal" fill="#231f20" textLength="63.8" lengthAdjust="spacingAndGlyphs" stroke="#231f20" stroke-width="0.15">+irrelevant IgG</text>
<text x="478.3" y="409.5" font-size="9.5" text-anchor="middle" font-weight="normal" fill="#231f20" textLength="17.0" lengthAdjust="spacingAndGlyphs" stroke="#231f20" stroke-width="0.15">PRP</text>
<text x="475.2" y="421.3" font-size="9.5" text-anchor="middle" font-weight="normal" fill="#231f20" textLength="45.8" lengthAdjust="spacingAndGlyphs" stroke="#231f20" stroke-width="0.15">+anti-PN-1</text>
<g transform="translate(292.6,350.2) rotate(-90)"><text x="0.0" y="0.0" font-size="10.5" text-anchor="start" font-weight="normal" fill="#231f20" textLength="40.7" lengthAdjust="spacingAndGlyphs" stroke="#231f20" stroke-width="0.15">Peak (nM)</text></g>
<circle cx="349.2" cy="336.0" r="2.5" fill="#b40032"/>
<circle cx="345.3" cy="362.0" r="2.5" fill="#b40032"/>
<circle cx="353.5" cy="358.4" r="2.5" fill="#b40032"/>
<path d="M327.8,352.0 H370.6 M338.5,344.1 H359.9 M338.5,360.2 H359.9 M349.2,344.1 V360.2" stroke="#111" stroke-width="1.5" fill="none"/>
<rect x="410.9" y="334.9" width="4.6" height="4.6" fill="#b40032"/>
<rect x="406.6" y="358.3" width="4.6" height="4.6" fill="#b40032"/>
<rect x="415.1" y="356.2" width="4.6" height="4.6" fill="#b40032"/>
<path d="M391.9,352.1 H434.5 M402.5,344.5 H423.9 M402.5,359.8 H423.9 M413.2,344.5 V359.8" stroke="#111" stroke-width="1.5" fill="none"/>
<path d="M477.9,282.7 L480.5,287.4 L475.3,287.4 Z" fill="#1c3a80"/>
<path d="M473.6,321.9 L476.2,326.6 L471.0,326.6 Z" fill="#1c3a80"/>
<path d="M481.3,321.9 L483.9,326.6 L478.7,326.6 Z" fill="#1c3a80"/>
<path d="M457.1,310.9 H498.7 M467.6,297.7 H488.2 M467.6,324.5 H488.2 M477.9,297.7 V324.5" stroke="#111" stroke-width="1.5" fill="none"/>
<rect x="0.5" y="0.5" width="519" height="434" fill="none" stroke="#000" stroke-width="1"/>
<rect x="1.5" y="1.5" width="517" height="432" fill="none" stroke="#000" stroke-opacity="0.45" stroke-width="1"/>
</svg></div></body></html>
